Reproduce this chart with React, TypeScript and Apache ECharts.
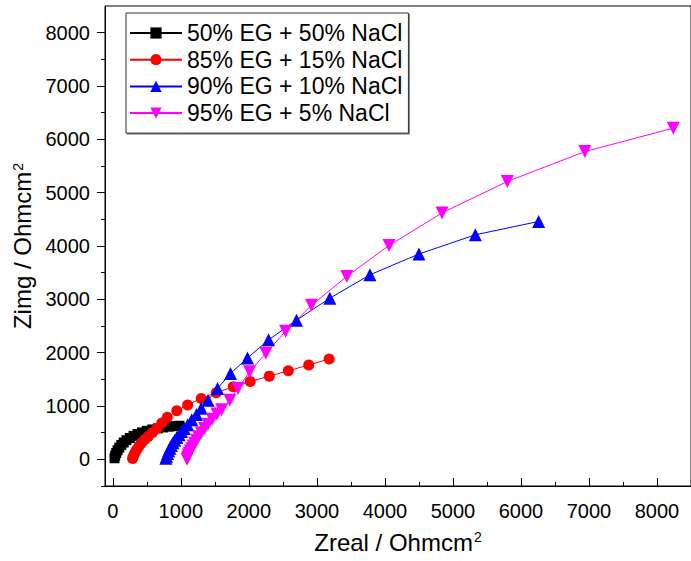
import React, { useEffect, useRef } from "react";
import * as echarts from "echarts";

// ---- data ----
const seriesNames = [
  "50% EG + 50% NaCl",
  "85% EG + 15% NaCl",
  "90% EG + 10% NaCl",
  "95% EG + 5% NaCl",
];

const blackX = [25, 35, 50, 70, 95, 125, 160, 200, 250, 305, 365, 430, 500, 580, 660, 740, 820, 900, 980];
const blackY = [20, 70, 120, 170, 220, 270, 315, 360, 400, 440, 475, 505, 535, 560, 580, 598, 612, 622, 630];

const redX = [290, 300, 315, 335, 360, 390, 425, 470, 520, 580, 650, 720, 800, 940, 1100, 1300, 1520, 1770, 2020, 2300, 2580, 2880, 3180];
const redY = [15, 50, 95, 145, 200, 255, 310, 370, 430, 500, 580, 680, 790, 910, 1020, 1140, 1250, 1360, 1460, 1560, 1660, 1770, 1880];

const blueX = [780, 790, 805, 820, 840, 860, 885, 910, 940, 975, 1010, 1050, 1100, 1160, 1230, 1300, 1400, 1540, 1730, 1980, 2290, 2700, 3190, 3780, 4500, 5330, 6260];
const blueY = [20, 60, 110, 160, 210, 260, 310, 360, 410, 460, 520, 580, 650, 740, 840, 960, 1110, 1330, 1610, 1900, 2240, 2610, 3020, 3460, 3850, 4210, 4460];

const magentaX = [1090, 1100, 1110, 1125, 1140, 1160, 1180, 1205, 1230, 1260, 1300, 1350, 1400, 1460, 1530, 1600, 1720, 1840, 2010, 2250, 2540, 2920, 3440, 4060, 4840, 5800, 6940, 8240];
const magentaY = [0, 40, 80, 120, 160, 200, 250, 300, 360, 425, 500, 580, 660, 750, 850, 930, 1110, 1330, 1640, 1990, 2400, 2890, 3430, 4010, 4620, 5210, 5770, 6210];

const xMajorTicks = [0, 1000, 2000, 3000, 4000, 5000, 6000, 7000, 8000];
const xMinorTicks = [500, 1500, 2500, 3500, 4500, 5500, 6500, 7500];
const yMajorTicks = [0, 1000, 2000, 3000, 4000, 5000, 6000, 7000, 8000];
const yMinorTicks = [-500, 500, 1500, 2500, 3500, 4500, 5500, 6500, 7500];

const X_MIN = -115;
const X_MAX = 8500;
const Y_MIN = -500;
const Y_MAX = 8500;

const FONT = "'Liberation Sans', Arial, sans-serif";

function pairs(xs: number[], ys: number[]) {
  return xs.map((x, i) => [x, ys[i]]);
}

const plain = (v: number) => String(v);

export default function App() {
  const ref = useRef<HTMLDivElement>(null);

  useEffect(() => {
    if (!ref.current) return;
    const chart = echarts.init(ref.current, undefined, { renderer: "svg" });

    const colors = ["#000000", "#ff0000", "#0000ff", "#ff00ff"];
    const symbols = ["rect", "circle", "triangle", "triangle"];
    const rotates = [0, 0, 0, 180];
    const sizes = [10, 11, 13, 13];
    const datas = [
      pairs(blackX, blackY),
      pairs(redX, redY),
      pairs(blueX, blueY),
      pairs(magentaX, magentaY),
    ];

    const supRich = {
      sup: { fontSize: 14, fontFamily: FONT, color: "#000", verticalAlign: "top", padding: [0, 0, 0, 1] },
    };

    chart.setOption({
      animation: false,
      backgroundColor: "#ffffff",
      grid: {
        left: 105,
        top: 6,
        right: -9,
        bottom: 75,
        show: true,
        borderColor: "#000",
        borderWidth: 1,
        backgroundColor: "transparent",
      },
      legend: {
        orient: "vertical",
        left: 126,
        top: 13,
        itemWidth: 52,
        itemHeight: 14,
        itemGap: 0.7,
        padding: [7, 6, 7, 3],
        borderColor: "#333",
        borderWidth: 1,
        backgroundColor: "#fff",
        shadowColor: "rgba(0,0,0,0.5)",
        shadowOffsetX: 1,
        shadowOffsetY: 1,
        shadowBlur: 0,
        textStyle: { fontSize: 23, fontFamily: FONT, color: "#000", lineHeight: 26 },
        data: seriesNames,
      },
      xAxis: [
        {
          type: "value",
          min: X_MIN,
          max: X_MAX,
          name: "Zreal / Ohmcm{sup|2}",
          nameLocation: "middle",
          nameGap: 44,
          nameTextStyle: { fontSize: 24, fontFamily: FONT, color: "#000", rich: supRich },
          axisLine: { show: true, onZero: false, lineStyle: { color: "#000", width: 1 } },
          axisTick: { show: true, inside: true, length: 8, customValues: xMajorTicks, lineStyle: { color: "#000" } },
          axisLabel: { show: true, customValues: xMajorTicks, formatter: plain, margin: 15, fontSize: 20, fontFamily: FONT, color: "#000" },
          splitLine: { show: false },
        },
        {
          type: "value",
          min: X_MIN,
          max: X_MAX,
          position: "bottom",
          axisLine: { show: false, onZero: false },
          axisTick: { show: true, inside: true, length: 4, customValues: xMinorTicks, lineStyle: { color: "#000" } },
          axisLabel: { show: false },
          splitLine: { show: false },
        },
      ],
      yAxis: [
        {
          type: "value",
          min: Y_MIN,
          max: Y_MAX,
          name: "Zimg / Ohmcm{sup|2}",
          nameLocation: "middle",
          nameGap: 64,
          nameTextStyle: { fontSize: 24, fontFamily: FONT, color: "#000", rich: supRich },
          axisLine: { show: true, onZero: false, lineStyle: { color: "#000", width: 1 } },
          axisTick: { show: true, inside: false, length: 8, customValues: yMajorTicks, lineStyle: { color: "#000" } },
          axisLabel: { show: true, customValues: yMajorTicks, formatter: plain, margin: 15, fontSize: 20, fontFamily: FONT, color: "#000" },
          splitLine: { show: false },
        },
        {
          type: "value",
          min: Y_MIN,
          max: Y_MAX,
          position: "left",
          axisLine: { show: false, onZero: false },
          axisTick: { show: true, inside: false, length: 4, customValues: yMinorTicks, lineStyle: { color: "#000" } },
          axisLabel: { show: false },
          splitLine: { show: false },
        },
      ],
      series: seriesNames.map((name, i) => ({
        name,
        type: "line",
        xAxisIndex: 0,
        yAxisIndex: 0,
        data: datas[i],
        symbol: symbols[i],
        symbolRotate: rotates[i],
        symbolSize: sizes[i],
        showAllSymbol: true,
        color: colors[i],
        itemStyle: { color: colors[i] },
        lineStyle: { color: colors[i], width: 1 },
        emphasis: { disabled: true },
      })),
    });

    return () => chart.dispose();
  }, []);

  return (
    <div
      ref={ref}
      style={{ position: "fixed", left: 0, top: 0, width: 691, height: 561, background: "#fff" }}
    />
  );
}
